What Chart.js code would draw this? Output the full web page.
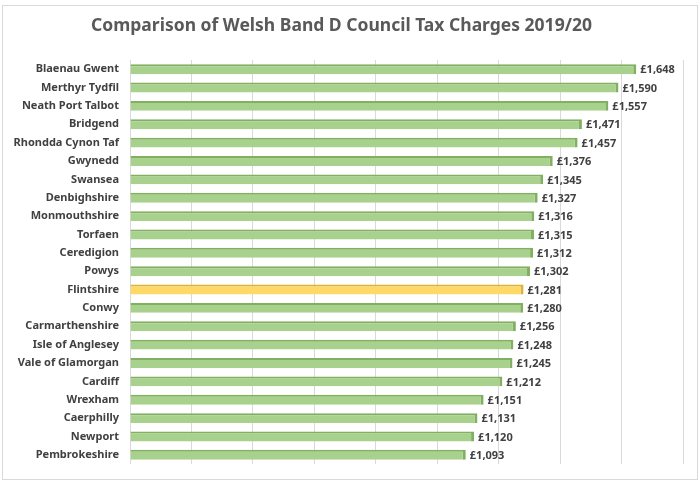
<!DOCTYPE html>
<html>
<head>
<meta charset="utf-8">
<script src="https://cdn.jsdelivr.net/npm/chart.js@4"></script>
<style>
  html, body { margin: 0; padding: 0; background: #fff; }
  #frame { position: absolute; left: 2px; top: 5px; width: 694px; height: 473px; border: 1px solid #d9d9d9; }
  #wrap { position: absolute; left: 0; top: 0; width: 700px; height: 484px; }
</style>
</head>
<body>
<div id="frame"></div>
<div id="wrap"><canvas id="c" width="700" height="484"></canvas></div>
<script>
const councils = ["Blaenau Gwent","Merthyr Tydfil","Neath Port Talbot","Bridgend","Rhondda Cynon Taf","Gwynedd","Swansea","Denbighshire","Monmouthshire","Torfaen","Ceredigion","Powys","Flintshire","Conwy","Carmarthenshire","Isle of Anglesey","Vale of Glamorgan","Cardiff","Wrexham","Caerphilly","Newport","Pembrokeshire"];
const bandD = [1648,1590,1557,1471,1457,1376,1345,1327,1316,1315,1312,1302,1281,1280,1256,1248,1245,1212,1151,1131,1120,1093];
const highlight = "Flintshire";
const chartTitle = "Comparison of Welsh Band D Council Tax Charges 2019/20";

const fills = councils.map(c => c === highlight ? "#ffd966" : "#a9d18e");
const edges = councils.map(c => c === highlight ? "#dcb239" : "#82b061");

const fmt = v => "£" + v.toLocaleString("en-GB");

const valueLabels = {
  id: "valueLabels",
  afterDatasetsDraw(chart) {
    const ctx = chart.ctx;
    const meta = chart.getDatasetMeta(0);
    ctx.save();
    ctx.font = "bold 11px 'Noto Sans'";
    ctx.fillStyle = "#404040";
    ctx.textAlign = "left";
    ctx.textBaseline = "middle";
    meta.data.forEach((el, i) => {
      ctx.fillText(fmt(chart.data.datasets[0].data[i]), el.x + 4, el.y + 1);
    });
    ctx.restore();
  }
};

new Chart(document.getElementById("c"), {
  type: "bar",
  data: {
    labels: councils,
    datasets: [{
      data: bandD,
      backgroundColor: fills,
      borderColor: edges,
      borderWidth: { top: 2, right: 3, bottom: 0, left: 0 },
      borderSkipped: false,
      barPercentage: 0.54,
      categoryPercentage: 1.0
    }]
  },
  options: {
    indexAxis: "y",
    responsive: false,
    animation: false,
    layout: { padding: { left: 0, right: 17, top: 0, bottom: 20 } },
    plugins: {
      legend: { display: false },
      tooltip: { enabled: false },
      title: {
        display: true,
        text: chartTitle,
        color: "#595959",
        font: { family: "'Noto Sans'", size: 17.5, weight: "bold" },
        padding: { top: 16, bottom: 23 }
      }
    },
    scales: {
      x: {
        min: 0, max: 1800,
        ticks: { display: false, stepSize: 200 },
        grid: { color: "#d9d9d9", drawTicks: false },
        border: { display: false }
      },
      y: {
        afterFit(scale) { scale.width = 130; },
        ticks: { color: "#404040", font: { family: "'Noto Sans'", size: 11, weight: "bold" }, padding: 11 },
        grid: { display: false, drawTicks: false },
        border: { display: false }
      }
    }
  },
  plugins: [valueLabels]
});
</script>
</body>
</html>
